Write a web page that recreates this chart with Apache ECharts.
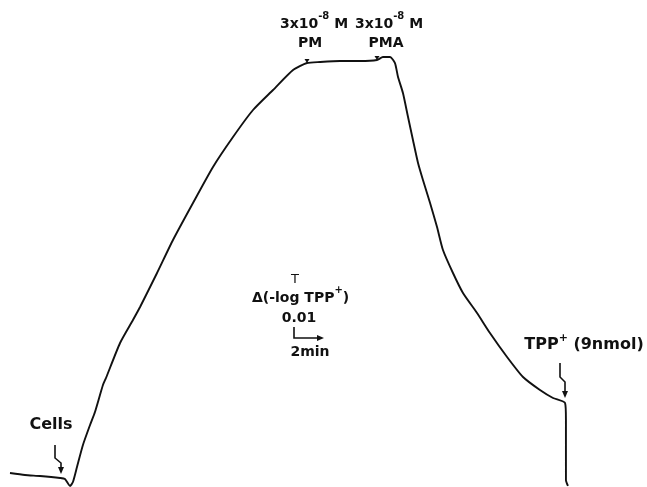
<!DOCTYPE html>
<html>
<head>
<meta charset="utf-8">
<script src="https://cdn.jsdelivr.net/npm/echarts@6/dist/echarts.min.js"></script>
<style>
html,body{margin:0;padding:0;background:#fff;}
#c{width:647px;height:487px;}
</style>
</head>
<body>
<div id="c"></div>
<script>
// time (min) (2 min scale bar)
const timeMin = [0,1.03,2.07,3.45,3.79,4.14,4.34,4.62,5.03,5.52,5.86,6.41,6.62,7.59,8.48,8.97,10.14,11.24,12.62,14.00,15.38,16.76,18.14,19.52,20.48,21.38,22.76,24.14,25.31,25.72,26.21,26.55,26.76,27.10,27.45,27.79,28.14,28.48,28.97,29.45,29.86,30.55,31.24,32.21,33.10,34.28,35.38,36.55,37.45,38.28,38.34,38.34,38.34,38.48];
// signal, in units of 0.01 delta(-log TPP+)
const signal = [0.091,0.055,0.036,0,-0.018,-0.145,-0.073,0.2,0.6,0.964,1.2,1.691,1.818,2.455,2.873,3.109,3.727,4.327,5.0,5.655,6.2,6.691,7.055,7.418,7.545,7.564,7.582,7.582,7.6,7.655,7.655,7.545,7.291,7.0,6.564,6.145,5.727,5.418,5.0,4.564,4.145,3.727,3.364,3.0,2.636,2.2,1.836,1.6,1.455,1.364,1.055,0.509,-0.036,-0.145];
// annotation texts
const labels = {pm: 'PM', pma: 'PMA', cells: 'Cells', tpp: 'TPP', tppTail: ' (9nmol)', conc: '3x10', exp: '-8', unit: ' M', axis: '\u0394(-log TPP', scale: '0.01', time: '2min'};

const trace = timeMin.map((t, i) => [t, signal[i]]);

const chart = echarts.init(document.getElementById('c'), null, {renderer: 'canvas'});
const FONT = '"DejaVu Sans", "Liberation Sans", Arial, sans-serif';
function rich(size) {
  return {
    n: {fontFamily: FONT, fontWeight: 'bold', fontSize: size, fill: '#111', lineHeight: 20, verticalAlign: 'bottom'},
    s: {fontFamily: FONT, fontWeight: 'bold', fontSize: Math.round(size * 0.7), fill: '#111', lineHeight: 10, verticalAlign: 'top'}
  };
}
function rtxt(x, y, s, size, align) {
  return {type: 'text', x: x, y: y, style: {text: s, rich: rich(size), align: align || 'center', verticalAlign: 'bottom', fontFamily: FONT, fontSize: size}};
}
function txt(x, y, s, size, extra) {
  return {type: 'text', x: x, y: y, style: Object.assign({fontFamily: FONT, fontWeight: 'bold', fill: '#111', text: s, fontSize: size, align: 'center', verticalAlign: 'middle'}, extra || {})};
}
function zig(x1, y1, y2, x2, y3, y4) {
  return [
    {type: 'polyline', shape: {points: [[x1, y1], [x1, y2], [x2, y3], [x2, y4 - 5]]}, style: {stroke: '#111', lineWidth: 1.6, fill: null}},
    {type: 'polygon', shape: {points: [[x2 - 3, y4 - 7], [x2 + 3, y4 - 7], [x2, y4]]}, style: {fill: '#111'}}
  ];
}
function tick(x, y) {
  return {type: 'polygon', shape: {points: [[x - 2.5, y - 3], [x + 2.5, y - 3], [x, y + 1]]}, style: {fill: '#111'}};
}
const concRich = '{n|' + labels.conc + '}{s|' + labels.exp + '}{n|' + labels.unit + '}';

chart.setOption({
  animation: false,
  backgroundColor: '#fff',
  grid: {left: 0, right: 0, top: 0, bottom: 0, containLabel: false},
  xAxis: {type: 'value', min: -10 / 14.5, max: 637 / 14.5, show: false},
  yAxis: {type: 'value', min: -9 / 55, max: 478 / 55, show: false},
  series: [{
    type: 'line',
    data: trace,
    showSymbol: false,
    smooth: 0.2,
    lineStyle: {color: '#111', width: 1.9},
    clip: false
  }],
  graphic: [
    rtxt(314, 31, concRich, 14),
    txt(310, 43, labels.pm, 14),
    rtxt(389, 31, concRich, 14),
    txt(386, 43, labels.pma, 14),
    txt(51, 425, labels.cells, 16),
    rtxt(584, 353, '{n|' + labels.tpp + '}{s|+}{n|' + labels.tppTail + '}', 16),
    txt(295, 280, 'T', 13, {fontWeight: 'normal'}),
    rtxt(252, 305, '{n|' + labels.axis + '}{s|+}{n|)}', 14, 'left'),
    txt(299, 318, labels.scale, 14),
    txt(310, 352, labels.time, 14),
    {type: 'polyline', shape: {points: [[294, 327], [294, 338], [318, 338]]}, style: {stroke: '#111', lineWidth: 1.6, fill: null}},
    {type: 'polygon', shape: {points: [[317, 335], [317, 341], [324, 338]]}, style: {fill: '#111'}},
    tick(307, 62), tick(377, 59)
  ].concat(zig(55, 445, 458, 61, 463, 474)).concat(zig(560, 363, 377, 565, 382, 398))
});
</script>
</body>
</html>
